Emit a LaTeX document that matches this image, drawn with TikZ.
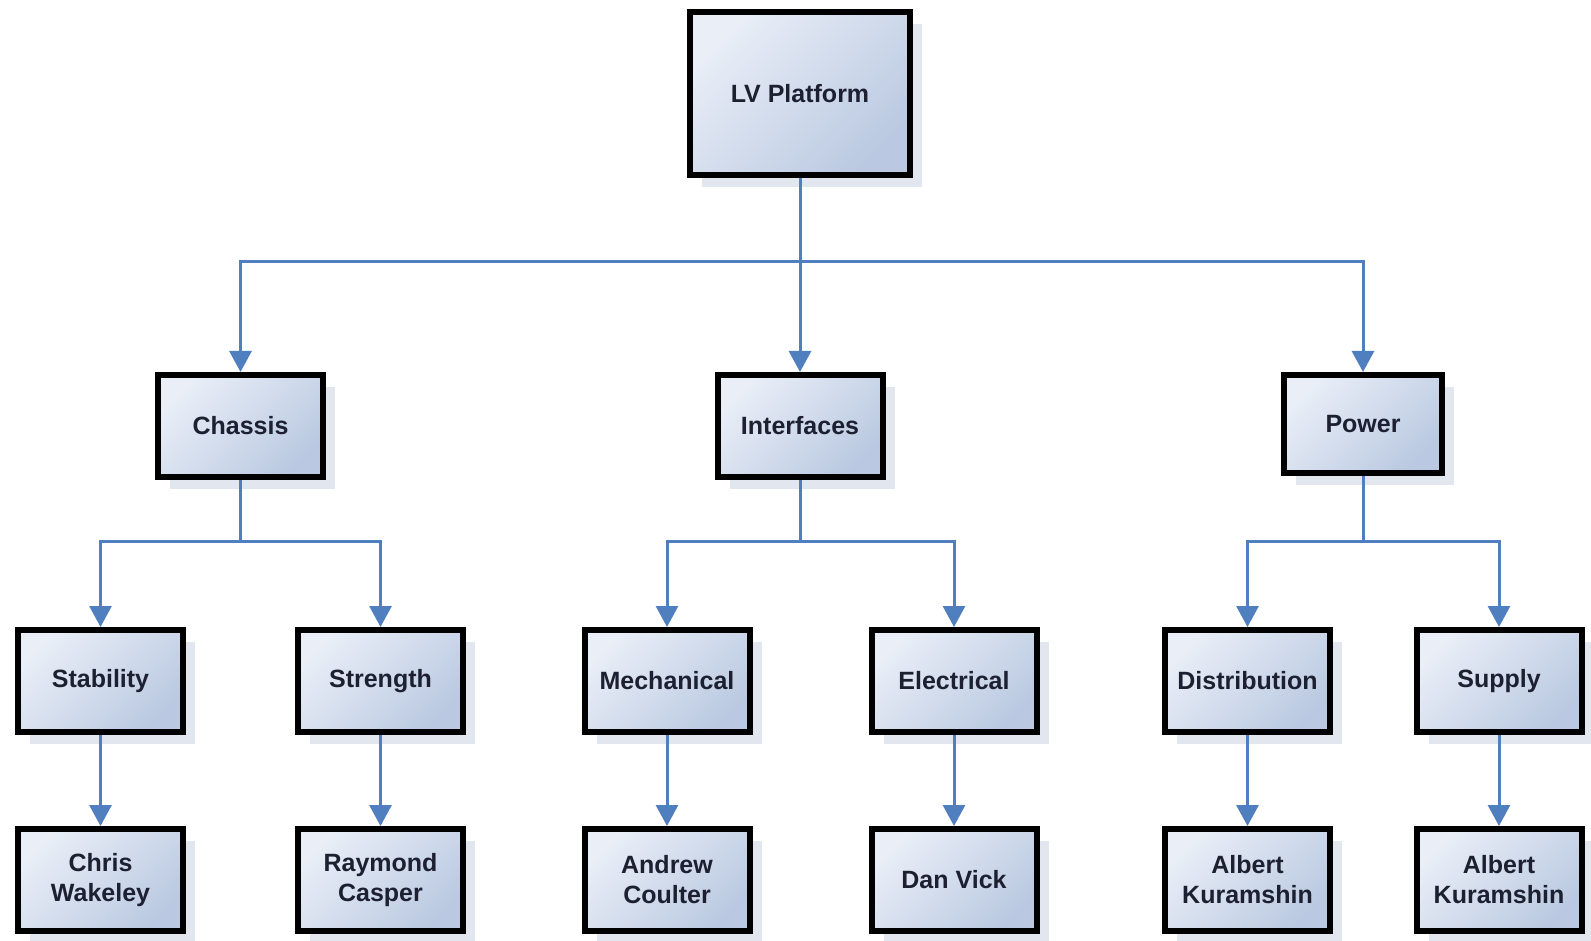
\documentclass[tikz,border=0pt]{standalone}
\usepackage{fontspec}
\setmainfont{Liberation Sans}
\usetikzlibrary{arrows.meta,shadows}
\definecolor{lnk}{HTML}{4F7FBF}
\definecolor{gA}{HTML}{E9EEF7}
\definecolor{gB}{HTML}{BAC9E1}
\definecolor{txt}{HTML}{1C2030}
\definecolor{shd}{HTML}{E1E6EF}
\tikzset{
  box/.style={draw=black, line width=6pt, top color=gA, bottom color=gB, shading angle=45,
    font=\bfseries\fontsize{25}{30}\selectfont, text=txt, align=center, inner sep=0pt,
    minimum width=165pt, minimum height=102pt,
    drop shadow={shadow xshift=12pt, shadow yshift=-12pt, fill=shd, opacity=1}},
  link/.style={draw=lnk, line width=3pt, -{Triangle[length=21pt,width=22pt]}},
  plain/.style={draw=lnk, line width=3pt},
}
\begin{document}
\begin{tikzpicture}[x=1pt,y=-1pt]
\fill[white] (0,0) rectangle (1591,941);
\useasboundingbox (0,0) rectangle (1591,941);
% top
\node[box, minimum width=220pt, minimum height=163pt] (lv) at (800,94) {LV Platform};
% level 1
\node[box] (chassis) at (240.5,426) {Chassis};
\node[box] (interfaces) at (800,426) {Interfaces};
\node[box, minimum width=158pt, minimum height=98pt] (power) at (1363,424) {Power};
% level 2
\node[box] (stability) at (100.5,681) {Stability};
\node[box] (strength) at (380.5,681) {Strength};
\node[box] (mechanical) at (667,681) {Mechanical};
\node[box] (electrical) at (954,681) {Electrical};
\node[box] (distribution) at (1247.5,681) {Distribution};
\node[box] (supply) at (1499,681) {Supply};
% level 3
\node[box] (chris) at (100.5,880) {Chris\\Wakeley};
\node[box] (raymond) at (380.5,880) {Raymond\\Casper};
\node[box] (andrew) at (667,880) {Andrew\\Coulter};
\node[box] (dan) at (954,880) {Dan Vick};
\node[box] (albert1) at (1247.5,880) {Albert\\Kuramshin};
\node[box] (albert2) at (1499,880) {Albert\\Kuramshin};
% junctions
\coordinate (busA) at (800,262);
\coordinate (busC) at (240.5,541);
\coordinate (busI) at (800,541);
\coordinate (busP) at (1363,541);
% connectors
\draw[plain] (lv.south) -- (busA);
\draw[link] (busA) -| (chassis.north);
\draw[link] (busA) -- (interfaces.north);
\draw[link] (busA) -| (power.north);
\draw[plain] (chassis.south) -- (busC);
\draw[link] (busC) -| (stability.north);
\draw[link] (busC) -| (strength.north);
\draw[plain] (interfaces.south) -- (busI);
\draw[link] (busI) -| (mechanical.north);
\draw[link] (busI) -| (electrical.north);
\draw[plain] (power.south) -- (busP);
\draw[link] (busP) -| (distribution.north);
\draw[link] (busP) -| (supply.north);
\draw[link] (stability) -- (chris);
\draw[link] (strength) -- (raymond);
\draw[link] (mechanical) -- (andrew);
\draw[link] (electrical) -- (dan);
\draw[link] (distribution) -- (albert1);
\draw[link] (supply) -- (albert2);
\end{tikzpicture}
\end{document}
